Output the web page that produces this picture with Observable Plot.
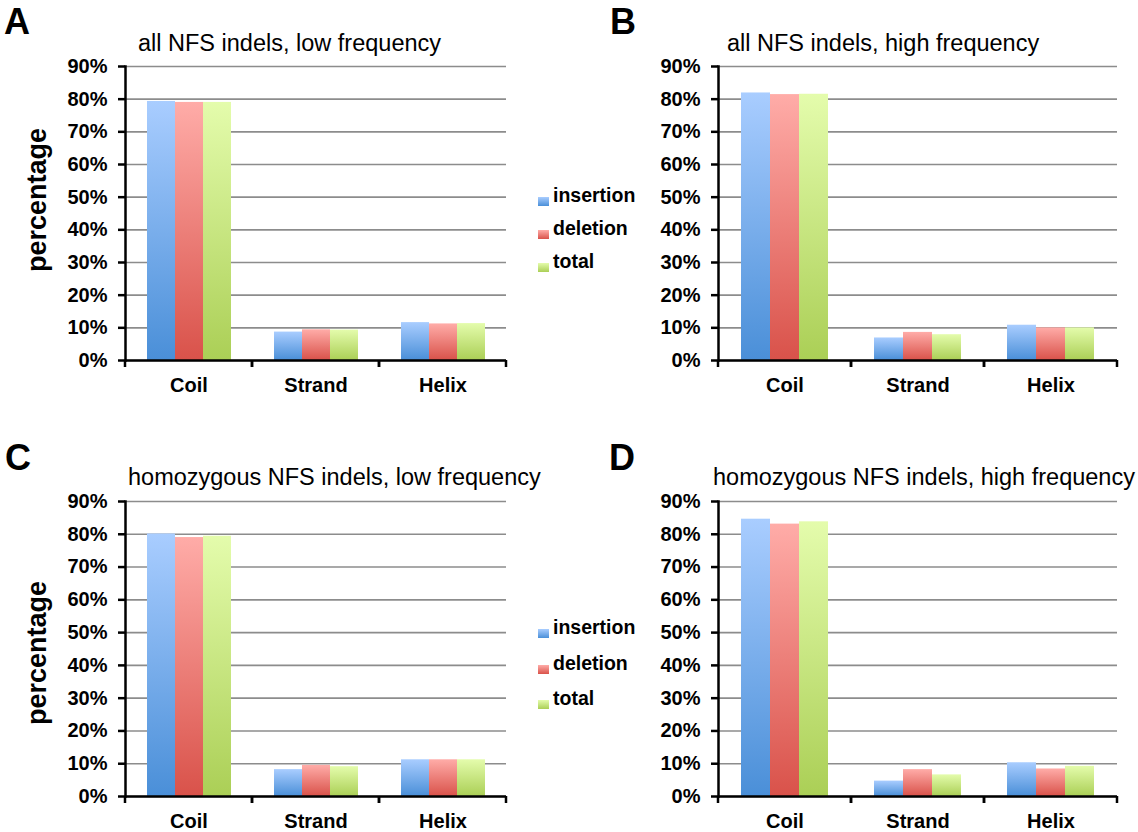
<!DOCTYPE html>
<html>
<head>
<meta charset="utf-8">
<script src="https://cdn.jsdelivr.net/npm/d3@7"></script>
<script src="https://cdn.jsdelivr.net/npm/@observablehq/plot@0.6"></script>
<style>
  body { margin: 0; background: #fff; font-family: "Liberation Sans", Arial, Helvetica, sans-serif; }
  #root { position: relative; width: 1138px; height: 832px; overflow: hidden; background: #fff; }
  .abs { position: absolute; white-space: nowrap; line-height: 1; color: #000; }
  .letter { font-weight: bold; font-size: 36px; }
  .title { font-size: 23.5px; }
  .ylab { font-weight: bold; font-size: 27px; transform: translate(-50%, -50%) rotate(-90deg); }
  .legtext { font-weight: bold; font-size: 19.5px; }
  .sw { position: absolute; width: 11px; height: 9px; }
</style>
</head>
<body>
<svg width="0" height="0" style="position:absolute">
  <defs>
    <linearGradient id="g-ins" x1="0" y1="0" x2="0" y2="1">
      <stop offset="0" stop-color="#a9cdff"/><stop offset="1" stop-color="#4a8fd8"/>
    </linearGradient>
    <linearGradient id="g-del" x1="0" y1="0" x2="0" y2="1">
      <stop offset="0" stop-color="#ffaca8"/><stop offset="1" stop-color="#d9524a"/>
    </linearGradient>
    <linearGradient id="g-tot" x1="0" y1="0" x2="0" y2="1">
      <stop offset="0" stop-color="#e4fcac"/><stop offset="1" stop-color="#abcf56"/>
    </linearGradient>
  </defs>
</svg>
<div id="root"></div>
<script>
// ---- data ----
const categories = ["Coil", "Strand", "Helix"];
const series = ["insertion", "deletion", "total"];
const yTicks = [0, 10, 20, 30, 40, 50, 60, 70, 80, 90];
const panelLetters = ["A", "B", "C", "D"];
const panelTitles = [
  "all NFS indels, low frequency",
  "all NFS indels, high frequency",
  "homozygous NFS indels, low frequency",
  "homozygous NFS indels, high frequency"
];
const yAxisLabel = "percentage";

const aInsertion = [79.3, 8.7, 11.6];
const aDeletion  = [79.0, 9.4, 11.2];
const aTotal     = [79.0, 9.3, 11.3];

const bInsertion = [81.9, 6.9, 10.8];
const bDeletion  = [81.4, 8.6, 10.0];
const bTotal     = [81.5, 7.9, 10.0];

const cInsertion = [80.1, 8.2, 11.2];
const cDeletion  = [79.0, 9.5, 11.2];
const cTotal     = [79.4, 9.1, 11.2];

const dInsertion = [84.6, 4.7, 10.3];
const dDeletion  = [83.1, 8.2, 8.4];
const dTotal     = [83.8, 6.6, 9.2];

const gradIds = ["g-ins", "g-del", "g-tot"];

// ---- helpers ----
const root = document.getElementById("root");

function addDiv(cls, text, left, top, extra) {
  const d = document.createElement("div");
  d.className = "abs " + cls;
  d.textContent = text;
  d.style.left = left + "px";
  d.style.top = top + "px";
  if (extra) Object.assign(d.style, extra);
  root.appendChild(d);
  return d;
}

function boundaryTicks(index, scales, values, dimensions) {
  const {width, marginLeft, marginRight} = dimensions;
  const y0 = scales.y(0);
  const g = d3.create("svg:g").attr("stroke", "black").attr("stroke-width", 2.5);
  for (const x of [marginLeft, width - marginRight]) {
    g.append("line").attr("x1", x).attr("x2", x).attr("y1", y0).attr("y2", y0 + 7);
  }
  return g.node();
}

function makePanel(ins, del, tot, left, top, marginLeft, width, frameH) {
  const rows = [];
  categories.forEach((c, i) => {
    rows.push({category: c, series: "insertion", value: ins[i]});
    rows.push({category: c, series: "deletion", value: del[i]});
    rows.push({category: c, series: "total", value: tot[i]});
  });
  const marginTop = 10, marginBottom = 45;
  const chart = Plot.plot({
    width,
    height: marginTop + frameH + marginBottom,
    marginLeft,
    marginRight: 5,
    marginTop,
    marginBottom,
    style: {
      fontFamily: "'Liberation Sans', Arial, sans-serif",
      fontWeight: "bold",
      fontSize: "20px",
      color: "black",
      background: "transparent",
      overflow: "visible"
    },
    fx: {domain: categories, padding: 0, label: null},
    x: {domain: series, paddingInner: 0, paddingOuter: 0.75, axis: null},
    y: {domain: [0, 90]},
    color: {domain: series, range: gradIds.map(id => `url(#${id})`)},
    marks: [
      Plot.gridY(yTicks, {stroke: "#8c8c8c", strokeOpacity: 1, strokeWidth: 1.6}),
      Plot.barY(rows, {fx: "category", x: "series", y: "value", fill: "series"}),
      Plot.ruleY([0], {stroke: "black", strokeWidth: 2.5}),
      Plot.frame({anchor: "left", facetAnchor: "left", stroke: "black", strokeWidth: 2.5}),
      boundaryTicks,
      Plot.axisY(yTicks, {tickSize: 7, tickPadding: 11, tickFormat: d => d + "%", stroke: "black", strokeWidth: 2.5, fontSize: 20, label: null}),
      Plot.axisFx({anchor: "bottom", tickSize: 0, tickPadding: 17, fontSize: 20, label: null})
    ]
  });
  chart.style.position = "absolute";
  chart.style.left = left + "px";
  chart.style.top = top + "px";
  root.appendChild(chart);
}

makePanel(aInsertion, aDeletion, aTotal, 0, 56, 124, 512, 294);
makePanel(bInsertion, bDeletion, bTotal, 600, 56, 118, 522, 294);
makePanel(cInsertion, cDeletion, cTotal, 0, 491, 124, 512, 295);
makePanel(dInsertion, dDeletion, dTotal, 600, 491, 118, 522, 295);

// ---- panel letters & titles ----
const F_L = 36, F_T = 23.5;
const letterPos = [[4, 34], [610, 34], [5, 470], [609, 470]];
letterPos.forEach(([x, b], i) => addDiv("letter", panelLetters[i], x, b - 0.8465 * F_L));
const titlePos = [[138, 52], [727, 52], [128, 486], [713, 486]];
titlePos.forEach(([x, b], i) => addDiv("title", panelTitles[i], x, b - 0.8465 * F_T));

// ---- y labels ----
addDiv("ylab", yAxisLabel, 37, 200);
addDiv("ylab", yAxisLabel, 37, 653);

// ---- legends ----
function legend(baselines) {
  const F = 19.5;
  series.forEach((s, i) => {
    const b = baselines[i];
    const sw = document.createElement("div");
    sw.className = "sw";
    sw.style.left = "538px";
    sw.style.top = (b - 11) + "px";
    const svgNS = "http://www.w3.org/2000/svg";
    const svg = document.createElementNS(svgNS, "svg");
    svg.setAttribute("width", 11); svg.setAttribute("height", 9);
    const r = document.createElementNS(svgNS, "rect");
    r.setAttribute("width", 11); r.setAttribute("height", 9);
    r.setAttribute("fill", `url(#${gradIds[i]})`);
    svg.appendChild(r); sw.appendChild(svg);
    root.appendChild(sw);
    addDiv("legtext", s, 553, b - 0.8465 * F);
  });
}
legend([203, 236, 269]);
legend([635, 671, 706]);
</script>
</body>
</html>
